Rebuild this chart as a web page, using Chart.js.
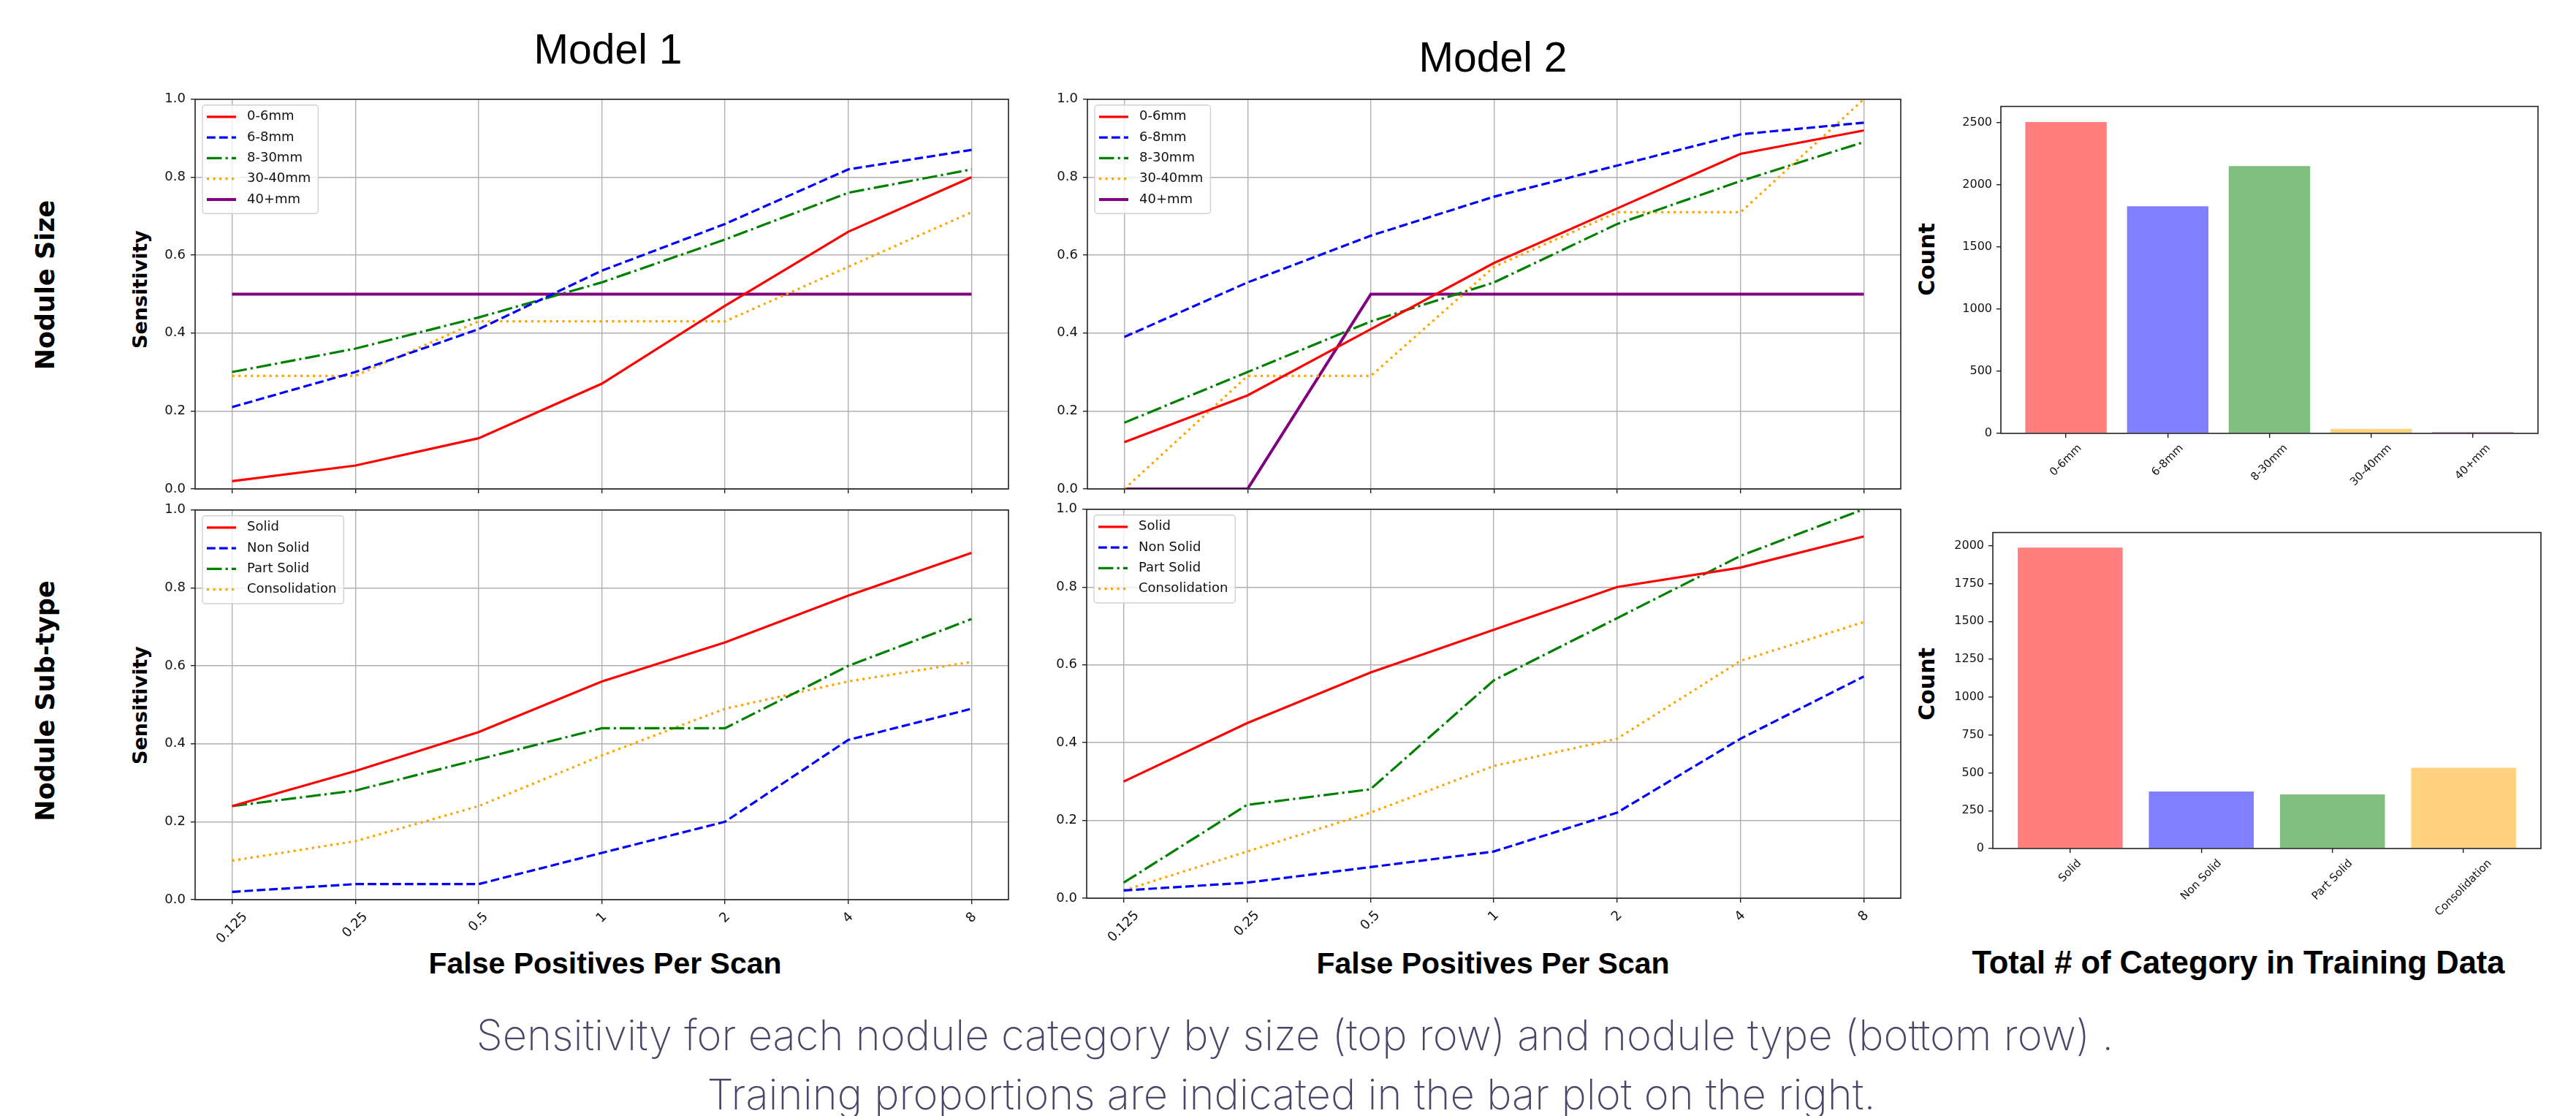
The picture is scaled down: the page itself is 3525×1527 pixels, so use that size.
<!DOCTYPE html>
<html>
<head>
<meta charset="utf-8">
<script src="https://cdn.jsdelivr.net/npm/chart.js@4.4.1/dist/chart.umd.min.js"></script>
<style>
  html, body { margin: 0; padding: 0; background: #fff; }
  body { width: 3525px; height: 1527px; position: relative; overflow: hidden; }
  canvas { position: absolute; }
  .lbl { position: absolute; transform: translate(-50%, -50%); white-space: nowrap; line-height: 1; color: #000; }
  .rot { transform: translate(-50%, -50%) rotate(-90deg); }
  .model { font-family: "Liberation Sans", Arial, sans-serif; font-size: 57px; }
  .row { font-family: "DejaVu Sans", sans-serif; font-weight: bold; font-size: 35px; }
  .ylab { font-family: "DejaVu Sans", sans-serif; font-weight: bold; font-size: 27px; }
  .xlab { font-family: "Liberation Sans", Arial, sans-serif; font-weight: bold; font-size: 41px; }
  .cap { font-family: Inter, Lato, sans-serif; font-weight: 200; font-size: 58px; color: #48476a; }
</style>
</head>
<body>
<div class="lbl model" style="left:832px; top:67px;">Model 1</div>
<div class="lbl model" style="left:2043px; top:78px;">Model 2</div>
<div class="lbl rot row" style="left:62px; top:390px;">Nodule Size</div>
<div class="lbl rot row" style="left:62px; top:959px;">Nodule Sub-type</div>
<div class="lbl rot ylab" style="left:191px; top:396px;">Sensitivity</div>
<div class="lbl rot ylab" style="left:191px; top:965px;">Sensitivity</div>
<div class="lbl rot ylab" style="left:2637px; top:355px; font-size:30px;">Count</div>
<div class="lbl rot ylab" style="left:2637px; top:936px; font-size:30px;">Count</div>
<div class="lbl xlab" style="left:828px; top:1318px;">False Positives Per Scan</div>
<div class="lbl xlab" style="left:2043px; top:1318px;">False Positives Per Scan</div>
<div class="lbl xlab" style="left:3063px; top:1318px; font-size:43.5px;">Total # of Category in Training Data</div>
<div class="lbl cap" style="left:1772px; top:1416px;">Sensitivity for each nodule category by size (top row) and nodule type (bottom row) .</div>
<div class="lbl cap" style="left:1767px; top:1497px;">Training proportions are indicated in the bar plot on the right.</div>

<script>
// ---- data ----
const fppsTicks = ['0.125', '0.25', '0.5', '1', '2', '4', '8'];
const sensTicks = [0, 0.2, 0.4, 0.6, 0.8, 1.0];
const sizeCategories = ['0-6mm', '6-8mm', '8-30mm', '30-40mm', '40+mm'];
const typeCategories = ['Solid', 'Non Solid', 'Part Solid', 'Consolidation'];

// Model 1, by nodule size
const m1Size0to6 = [0.02, 0.06, 0.13, 0.27, 0.47, 0.66, 0.80];
const m1Size6to8 = [0.21, 0.30, 0.41, 0.56, 0.68, 0.82, 0.87];
const m1Size8to30 = [0.30, 0.36, 0.44, 0.53, 0.64, 0.76, 0.82];
const m1Size30to40 = [0.29, 0.29, 0.43, 0.43, 0.43, 0.57, 0.71];
const m1Size40plus = [0.5, 0.5, 0.5, 0.5, 0.5, 0.5, 0.5];

// Model 2, by nodule size
const m2Size0to6 = [0.12, 0.24, 0.41, 0.58, 0.72, 0.86, 0.92];
const m2Size6to8 = [0.39, 0.53, 0.65, 0.75, 0.83, 0.91, 0.94];
const m2Size8to30 = [0.17, 0.30, 0.43, 0.53, 0.68, 0.79, 0.89];
const m2Size30to40 = [0.0, 0.29, 0.29, 0.57, 0.71, 0.71, 1.0];
const m2Size40plus = [0.0, 0.0, 0.5, 0.5, 0.5, 0.5, 0.5];

// Model 1, by nodule type
const m1Solid = [0.24, 0.33, 0.43, 0.56, 0.66, 0.78, 0.89];
const m1NonSolid = [0.02, 0.04, 0.04, 0.12, 0.20, 0.41, 0.49];
const m1PartSolid = [0.24, 0.28, 0.36, 0.44, 0.44, 0.60, 0.72];
const m1Consolidation = [0.10, 0.15, 0.24, 0.37, 0.49, 0.56, 0.61];

// Model 2, by nodule type
const m2Solid = [0.30, 0.45, 0.58, 0.69, 0.80, 0.85, 0.93];
const m2NonSolid = [0.02, 0.04, 0.08, 0.12, 0.22, 0.41, 0.57];
const m2PartSolid = [0.04, 0.24, 0.28, 0.56, 0.72, 0.88, 1.0];
const m2Consolidation = [0.02, 0.12, 0.22, 0.34, 0.41, 0.61, 0.71];

// training counts
const sizeCounts = [2503, 1826, 2149, 37, 10];
const typeCounts = [1988, 376, 357, 533];
const sizeCountTicks = [0, 500, 1000, 1500, 2000, 2500];
const typeCountTicks = [0, 250, 500, 750, 1000, 1250, 1500, 1750, 2000];

// ---- styles ----
const lineStyles = [
  { color: '#ff0000', dash: [], width: 3.2 },
  { color: '#0000ff', dash: [11.8, 5.1], width: 3.2 },
  { color: '#008000', dash: [20.5, 5.1, 3.2, 5.1], width: 3.2 },
  { color: '#ffa500', dash: [3.2, 5.3], width: 3.2 },
  { color: '#800080', dash: [], width: 4 }
];
const barColors = ['rgba(255,0,0,0.5)', 'rgba(0,0,255,0.5)', 'rgba(0,128,0,0.5)',
                   'rgba(255,165,0,0.5)', 'rgba(128,0,128,0.5)'];

Chart.defaults.font.family = '"DejaVu Sans", sans-serif';
Chart.defaults.color = '#111';

const AXW = 100, AXH = 130, PAD = 12;

function makeCanvas(rect) {
  const c = document.createElement('canvas');
  c.width = rect.w + AXW + PAD;
  c.height = rect.h + PAD + AXH;
  c.style.left = (rect.x - AXW) + 'px';
  c.style.top = (rect.y - PAD) + 'px';
  document.body.appendChild(c);
  return c;
}

// frame, legend box and centred 45-degree tick labels, matplotlib style
function mplPlugin(cfg) {
  return {
    id: 'mpl',
    afterDatasetsDraw(chart) {
      const { ctx, chartArea: a } = chart;
      ctx.save();
      ctx.strokeStyle = '#222';
      ctx.lineWidth = 1.6;
      ctx.strokeRect(a.left, a.top, a.right - a.left, a.bottom - a.top);
      ctx.restore();
    },
    afterDraw(chart) {
      const { ctx, chartArea: a } = chart;
      if (cfg.legend) {
        const sets = chart.data.datasets;
        ctx.save();
        ctx.font = '18px "DejaVu Sans"';
        const tw = Math.max(...sets.map(d => ctx.measureText(d.label).width));
        const bx = a.left + 10, by = a.top + 8;
        const bw = 60 + tw + 11, bh = sets.length * 28.3 + 7;
        ctx.beginPath();
        ctx.roundRect(bx, by, bw, bh, 4);
        ctx.fillStyle = 'rgba(255,255,255,0.8)';
        ctx.fill();
        ctx.strokeStyle = 'rgba(204,204,204,0.9)';
        ctx.lineWidth = 1.4;
        ctx.stroke();
        sets.forEach((d, k) => {
          const cy = by + 16 + k * 28.3;
          ctx.setLineDash(d.borderDash);
          ctx.strokeStyle = d.borderColor;
          ctx.lineWidth = d.borderWidth;
          ctx.beginPath();
          ctx.moveTo(bx + 6, cy);
          ctx.lineTo(bx + 46, cy);
          ctx.stroke();
          ctx.setLineDash([]);
          ctx.fillStyle = '#111';
          ctx.textBaseline = 'middle';
          ctx.textAlign = 'left';
          ctx.fillText(d.label, bx + 61, cy);
        });
        ctx.restore();
      }
      if (cfg.xLabels) {
        const x = chart.scales.x;
        ctx.save();
        ctx.font = cfg.fontSize + 'px "DejaVu Sans"';
        ctx.fillStyle = '#111';
        ctx.textAlign = 'center';
        ctx.textBaseline = 'middle';
        cfg.xLabels.forEach((lab, i) => {
          const px = x.getPixelForValue(i);
          const w = ctx.measureText(lab).width;
          const half = (w + cfg.fontSize * 0.75) * Math.SQRT1_2 / 2;
          ctx.save();
          ctx.translate(px, a.bottom + cfg.gap + half);
          ctx.rotate(-Math.PI / 4);
          ctx.fillText(lab, 0, 0);
          ctx.restore();
        });
        ctx.restore();
      }
    }
  };
}

const tickGrid = { color: '#b0b0b0', lineWidth: 1.4, tickColor: '#222', tickLength: 6, tickWidth: 1.4 };

function linePanel(rect, series, names, showX) {
  const datasets = series.map((vals, k) => ({
    label: names[k],
    data: vals.map((v, i) => ({ x: i, y: v })),
    borderColor: lineStyles[k].color,
    borderDash: lineStyles[k].dash,
    borderWidth: lineStyles[k].width,
    pointRadius: 0,
    tension: 0,
    fill: false
  }));
  new Chart(makeCanvas(rect), {
    type: 'line',
    data: { datasets },
    options: {
      responsive: false, animation: false, devicePixelRatio: 1,
      layout: { padding: { top: PAD, right: PAD, left: 0, bottom: 0 } },
      plugins: { legend: { display: false }, tooltip: { enabled: false } },
      scales: {
        x: {
          type: 'linear', min: -0.3, max: 6.3,
          afterBuildTicks: s => { s.ticks = fppsTicks.map((t, i) => ({ value: i })); },
          afterFit: s => { s.height = AXH; },
          ticks: { display: false },
          grid: tickGrid,
          border: { display: false }
        },
        y: {
          min: 0, max: 1,
          afterBuildTicks: s => { s.ticks = sensTicks.map(v => ({ value: v })); },
          afterFit: s => { s.width = AXW; },
          ticks: { font: { size: 18 }, padding: 7, callback: v => v.toFixed(1) },
          grid: tickGrid,
          border: { display: false }
        }
      }
    },
    plugins: [mplPlugin({ legend: true, xLabels: showX ? fppsTicks : null, fontSize: 18, gap: 16 })]
  });
}

function barPanel(rect, cats, counts, yTicks) {
  const n = cats.length;
  const margin = 0.05 * (n - 1 + 0.8);
  new Chart(makeCanvas(rect), {
    type: 'bar',
    data: {
      datasets: [{
        data: counts.map((v, i) => ({ x: i, y: v })),
        backgroundColor: barColors.slice(0, n),
        borderWidth: 0,
        categoryPercentage: 1,
        barPercentage: 0.8
      }]
    },
    options: {
      responsive: false, animation: false, devicePixelRatio: 1,
      layout: { padding: { top: PAD, right: PAD, left: 0, bottom: 0 } },
      plugins: { legend: { display: false }, tooltip: { enabled: false } },
      scales: {
        x: {
          type: 'linear', offset: false, min: -0.4 - margin, max: n - 1 + 0.4 + margin,
          afterBuildTicks: s => { s.ticks = cats.map((c, i) => ({ value: i })); },
          afterFit: s => { s.height = AXH; },
          ticks: { display: false },
          grid: { ...tickGrid, offset: false, drawOnChartArea: false },
          border: { display: false }
        },
        y: {
          min: 0, max: Math.max(...counts) * 1.05,
          afterBuildTicks: s => { s.ticks = yTicks.map(v => ({ value: v })); },
          afterFit: s => { s.width = AXW; },
          ticks: { font: { size: 16 }, padding: 6, callback: v => String(v) },
          grid: { ...tickGrid, drawOnChartArea: false },
          border: { display: false }
        }
      }
    },
    plugins: [mplPlugin({ legend: false, xLabels: cats, fontSize: 15, gap: 14 })]
  });
}

// plot areas (page pixels)
const panels = {
  tl: { x: 267, y: 130, w: 1113, h: 539 },
  tm: { x: 1488, y: 130, w: 1113, h: 539 },
  bl: { x: 267, y: 692, w: 1113, h: 539 },
  bm: { x: 1487, y: 691, w: 1114, h: 538 },
  tr: { x: 2738, y: 142, w: 735, h: 451 },
  br: { x: 2727, y: 725, w: 750, h: 436 }
};

linePanel(panels.tl, [m1Size0to6, m1Size6to8, m1Size8to30, m1Size30to40, m1Size40plus], sizeCategories, false);
linePanel(panels.tm, [m2Size0to6, m2Size6to8, m2Size8to30, m2Size30to40, m2Size40plus], sizeCategories, false);
linePanel(panels.bl, [m1Solid, m1NonSolid, m1PartSolid, m1Consolidation], typeCategories, true);
linePanel(panels.bm, [m2Solid, m2NonSolid, m2PartSolid, m2Consolidation], typeCategories, true);
barPanel(panels.tr, sizeCategories, sizeCounts, sizeCountTicks);
barPanel(panels.br, typeCategories, typeCounts, typeCountTicks);
</script>
</body>
</html>
